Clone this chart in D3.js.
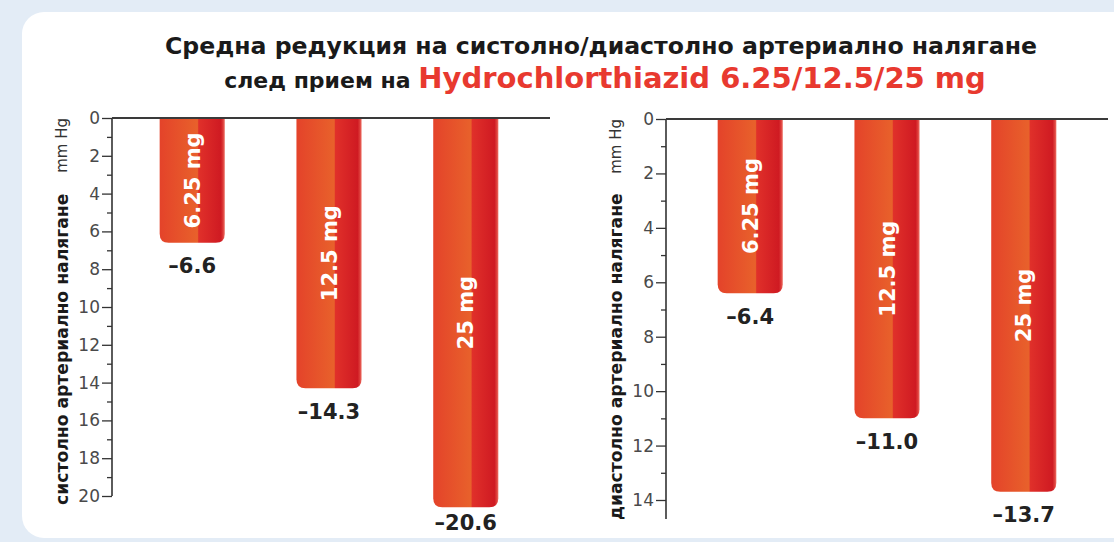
<!DOCTYPE html>
<html lang="bg">
<head>
<meta charset="utf-8">
<script src="https://cdn.jsdelivr.net/npm/d3@7"></script>
<style>
  html, body { margin: 0; padding: 0; background: #e3ecf6; }
  svg { display: block; }
</style>
</head>
<body>
<script>
// chart data
const doses = ["6.25 mg", "12.5 mg", "25 mg"];
const systolic = [6.6, 14.3, 20.6];
const diastolic = [6.4, 11.0, 13.7];
const valueLabels = { systolic: ["–6.6", "–14.3", "–20.6"], diastolic: ["–6.4", "–11.0", "–13.7"] };
const titleLine1 = "Средна редукция на систолно/диастолно артериално налягане";
const titleLine2a = "след прием на ";
const titleLine2b = "Hydrochlorthiazid 6.25/12.5/25 mg";

const width = 1114, height = 542;

const svg = d3.select("body").append("svg")
    .attr("width", width)
    .attr("height", height);

// white card
svg.append("rect")
    .attr("x", 22).attr("y", 12)
    .attr("width", 1140).attr("height", 526)
    .attr("rx", 22)
    .attr("fill", "#fff");

// bar gradient
const grad = svg.append("defs").append("linearGradient")
    .attr("id", "barGrad")
    .attr("x1", "0").attr("x2", "1").attr("y1", "0").attr("y2", "0");
[[0, "#e4432a"], [0.58, "#e8612b"], [0.6, "#e0302a"], [0.94, "#cf1a22"], [0.97, "#dc3a38"], [1, "#ec6d62"]]
    .forEach(s => grad.append("stop").attr("offset", s[0]).attr("stop-color", s[1]));

// title
const title = svg.append("g")
    .attr("font-family", "'DejaVu Sans', sans-serif")
    .attr("font-weight", "bold")
    .attr("text-anchor", "middle");

title.append("text")
    .attr("x", 601).attr("y", 54)
    .attr("font-size", 23.6)
    .attr("fill", "#1a1a1a")
    .text(titleLine1);

const t2 = title.append("text")
    .attr("x", 605).attr("y", 88);
t2.append("tspan").attr("font-size", 22).attr("fill", "#1a1a1a").text(titleLine2a);
t2.append("tspan").attr("font-size", 29).attr("fill", "#e8392f").text(titleLine2b);

function bottomRounded(x, y0, w, y1, r) {
    r = Math.min(r, (y1 - y0) / 2);
    return `M${x},${y0}H${x + w}V${y1 - r}Q${x + w},${y1} ${x + w - r},${y1}` +
        `H${x + r}Q${x},${y1} ${x},${y1 - r}Z`;
}

const panels = [
    { values: systolic, labels: valueLabels.systolic, max: 20, axisEnd: 20, x0: 112, top: 118, bottom: 496,
      lineRight: 550, band: [88, 570], titleX: 62, titleY: 505, title: "систолно артериално налягане" },
    { values: diastolic, labels: valueLabels.diastolic, max: 14, axisEnd: 14.7, x0: 666, top: 119, bottom: 500,
      lineRight: 1108, band: [646, 1128], titleX: 616, titleY: 520, title: "диастолно артериално налягане" }
];

panels.forEach(p => {
    const g = svg.append("g");

    const y = d3.scaleLinear().domain([0, p.max]).range([p.top, p.bottom]);
    const x = d3.scaleBand().domain(doses).range(p.band).padding(0.524);

    // bars
    const bars = g.append("g")
        .selectAll("g")
        .data(doses.map((d, i) => ({ dose: d, value: p.values[i], label: p.labels[i] })))
        .join("g");

    bars.append("path")
        .attr("d", d => bottomRounded(x(d.dose), y(0), x.bandwidth(), y(d.value), 9))
        .attr("fill", "url(#barGrad)");

    bars.append("text")
        .attr("transform", d => `translate(${x(d.dose) + x.bandwidth() / 2},${(y(0) + y(d.value)) / 2}) rotate(-90)`)
        .attr("text-anchor", "middle")
        .attr("dy", "0.36em")
        .attr("font-family", "'DejaVu Sans', sans-serif")
        .attr("font-weight", "bold")
        .attr("font-size", 21)
        .attr("fill", "#fff")
        .text(d => d.dose);

    // value under the bar, kept inside the card
    bars.append("text")
        .attr("x", d => x(d.dose) + x.bandwidth() / 2)
        .attr("y", d => Math.min(y(d.value) + 23, height - 20))
        .attr("dy", "0.36em")
        .attr("text-anchor", "middle")
        .attr("font-family", "'DejaVu Sans', sans-serif")
        .attr("font-weight", "bold")
        .attr("font-size", 21)
        .attr("fill", "#222")
        .text(d => d.label);

    // y axis
    const axis = g.append("g")
        .attr("transform", `translate(${p.x0},0)`)
        .call(d3.axisLeft(y)
            .tickValues(d3.range(0, p.max + 1))
            .tickSize(5)
            .tickSizeOuter(0)
            .tickPadding(8)
            .tickFormat(d => d % 2 === 0 ? d : ""));

    axis.select(".domain").remove();
    axis.selectAll(".tick line").attr("stroke", "#333").attr("stroke-width", 1.3);
    axis.selectAll(".tick").filter(d => d % 2 === 0).select("line").attr("x2", -10);
    axis.selectAll(".tick text")
        .attr("x", -12)
        .attr("font-family", "'DejaVu Sans', sans-serif")
        .attr("font-size", 17)
        .attr("fill", "#4a4a4a");

    g.append("line")
        .attr("x1", p.x0).attr("x2", p.x0)
        .attr("y1", y(0)).attr("y2", y(p.axisEnd))
        .attr("stroke", "#333").attr("stroke-width", 1.6);

    g.append("line")
        .attr("x1", p.x0).attr("x2", p.lineRight)
        .attr("y1", y(0)).attr("y2", y(0))
        .attr("stroke", "#3a3a3a").attr("stroke-width", 2);

    // axis titles
    g.append("text")
        .attr("transform", `translate(${p.titleX},${p.titleY}) rotate(-90)`)
        .attr("dy", "0.36em")
        .attr("font-family", "'DejaVu Sans', sans-serif")
        .attr("font-weight", "bold")
        .attr("font-size", 17.2)
        .attr("fill", "#1a1a1a")
        .text(p.title);

    g.append("text")
        .attr("transform", `translate(${p.titleX},${y(0)}) rotate(-90)`)
        .attr("dy", "0.36em")
        .attr("text-anchor", "end")
        .attr("font-family", "'DejaVu Sans', sans-serif")
        .attr("font-size", 15)
        .attr("fill", "#333")
        .text("mm Hg");
});
</script>
</body>
</html>
